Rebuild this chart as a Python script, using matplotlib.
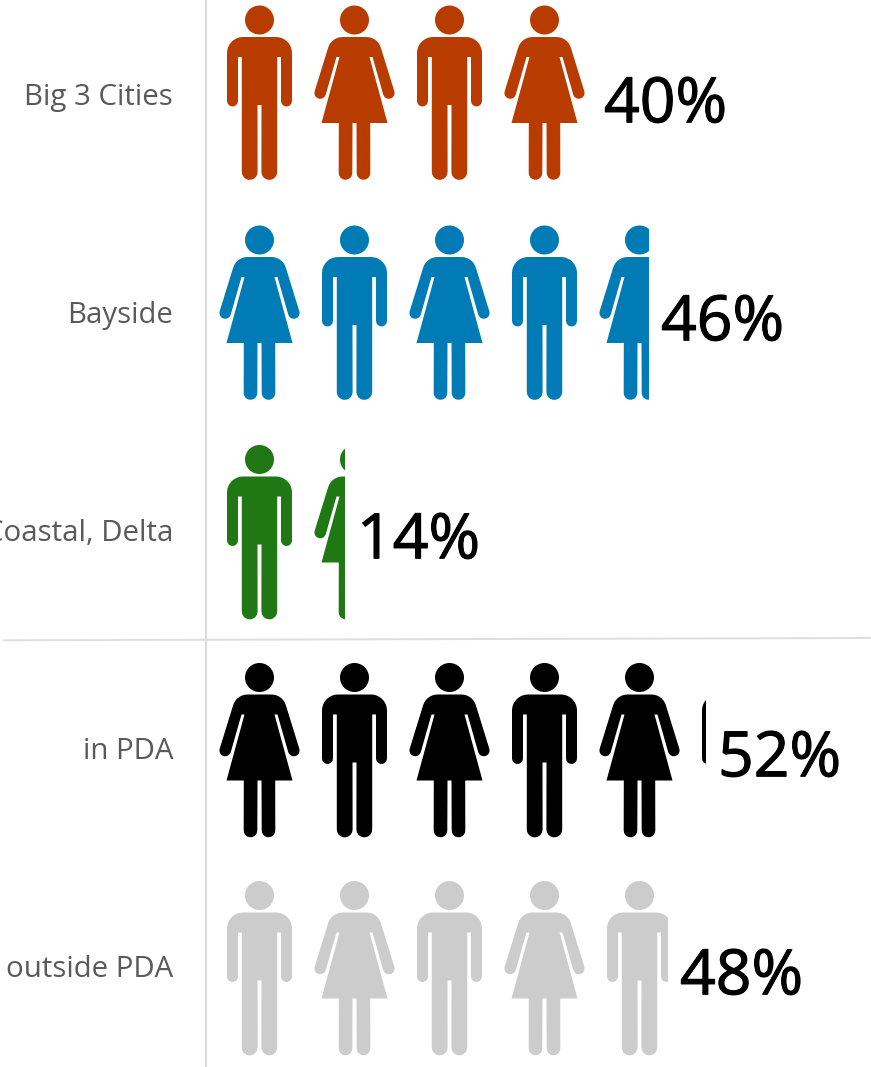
import matplotlib
matplotlib.use('Agg')
import matplotlib.pyplot as plt
import matplotlib.patheffects as pe
import numpy as np
from matplotlib.path import Path
from matplotlib.patches import PathPatch, Rectangle
from matplotlib.transforms import Affine2D

categories = ['Big 3 Cities', 'Bayside', 'Coastal, Delta', 'in PDA', 'outside PDA']
shares = [40, 46, 14, 52, 48]
share_labels = ['40%', '46%', '14%', '52%', '48%']
colors = ['#B83C00', '#007BB5', '#1F7814', '#000000', '#CCCCCC']
first_icon = ['man', 'woman', 'man', 'woman', 'man']

W, H = 871, 1067
X0, PX_PER_PCT = 212, 9.5     # where 0% sits, pixels per percent
Y0, PX_PER_ROW = 92, 218
ROW_NUDGE = [4, 2, 0.5, 0.5, 0.5]   # icons don't sit exactly evenly in the original

plt.rcParams['font.family'] = ['Open Sans', 'DejaVu Sans']


def arc(cx, cy, r, a0, a1, n=10):
    # angles in degrees, y pointing down like the screen
    t = np.radians(np.linspace(a0, a1, n))
    return [(cx + r * np.cos(a), cy + r * np.sin(a)) for a in t]


def close_path(pts):
    pts = np.array(pts)
    codes = [Path.MOVETO] + [Path.LINETO] * (len(pts) - 1)
    return Path(pts, codes)


def mirror(pts):
    return [(-x, y) for x, y in reversed(pts)]


def head():
    return Path.circle((0, -68), 14.5)


# icon coords in pixels, origin at the row centre, y down
def man():
    half = [(0, -51)] + arc(16.5, -35, 16, -90, 0, 10)
    half += arc(27, 13, 5.5, 0, 180, 8)
    half += [(21.5, -31), (17.7, -31)]
    half += arc(9.8, 84, 7.9, 0, 180, 10)
    half += [(2, 17), (0, 17)]
    return close_path(half + mirror(half)[1:])


def woman():
    half = [(0, -51)]
    half += arc(12, -36, 15, -90, -15, 8)
    half += arc(34.3, 5, 5.8, -15, 165, 10)
    half += [(18, -31), (15, -31), (33, 35), (15.7, 35)]
    half += arc(9, 85, 6.8, 0, 180, 10)
    half += [(2, 35), (0, 35)]
    return close_path(half + mirror(half)[1:])


SHAPES = {'man': man(), 'woman': woman()}

fig = plt.figure(figsize=(W / 100, H / 100), dpi=100)
ax = fig.add_axes([0, 0, 1, 1])
ax.set_xlim(-X0 / PX_PER_PCT, (W - X0) / PX_PER_PCT)
ax.set_ylim((H - Y0) / PX_PER_ROW, -Y0 / PX_PER_ROW)
ax.axis('off')

# rules
ax.plot([(206 - X0) / PX_PER_PCT] * 2, ax.get_ylim(), color='#D9D9D9', lw=1.4, zorder=1)
ax.plot(((np.array([4, W]) - X0) / PX_PER_PCT), (np.array([640.3, 638]) - Y0) / PX_PER_ROW,
        color='#DEDEDE', lw=1.4, zorder=1)

order = ['man', 'woman']
for i, cat in enumerate(categories):
    ax.text((173 - X0) / PX_PER_PCT, i + 5 / PX_PER_ROW, cat, ha='right', va='center',
            fontsize=21.2, color='#5A5A5A')
    clip = Rectangle((0, i - 0.49), shares[i], 0.98, transform=ax.transData)
    start = order.index(first_icon[i])
    n_icons = int(np.ceil(shares[i] / 10))
    for k in range(n_icons):
        kind = order[(start + k) % 2]
        px, py = ax.transData.transform(((k + 0.5) * 10, i))
        tr = Affine2D().scale(1, -1).translate(px, py + ROW_NUDGE[i])
        for shape in (SHAPES[kind], head()):
            p = PathPatch(shape, facecolor=colors[i], edgecolor='none', transform=tr, zorder=3)
            ax.add_patch(p)
            p.set_clip_path(clip)
    ax.text(shares[i] + 12 / PX_PER_PCT, i + 14 / PX_PER_ROW, share_labels[i], ha='left',
            va='center', fontsize=45, color='black',
            path_effects=[pe.withStroke(linewidth=0.8, foreground='black')])

fig.savefig('out.png', dpi=100)
